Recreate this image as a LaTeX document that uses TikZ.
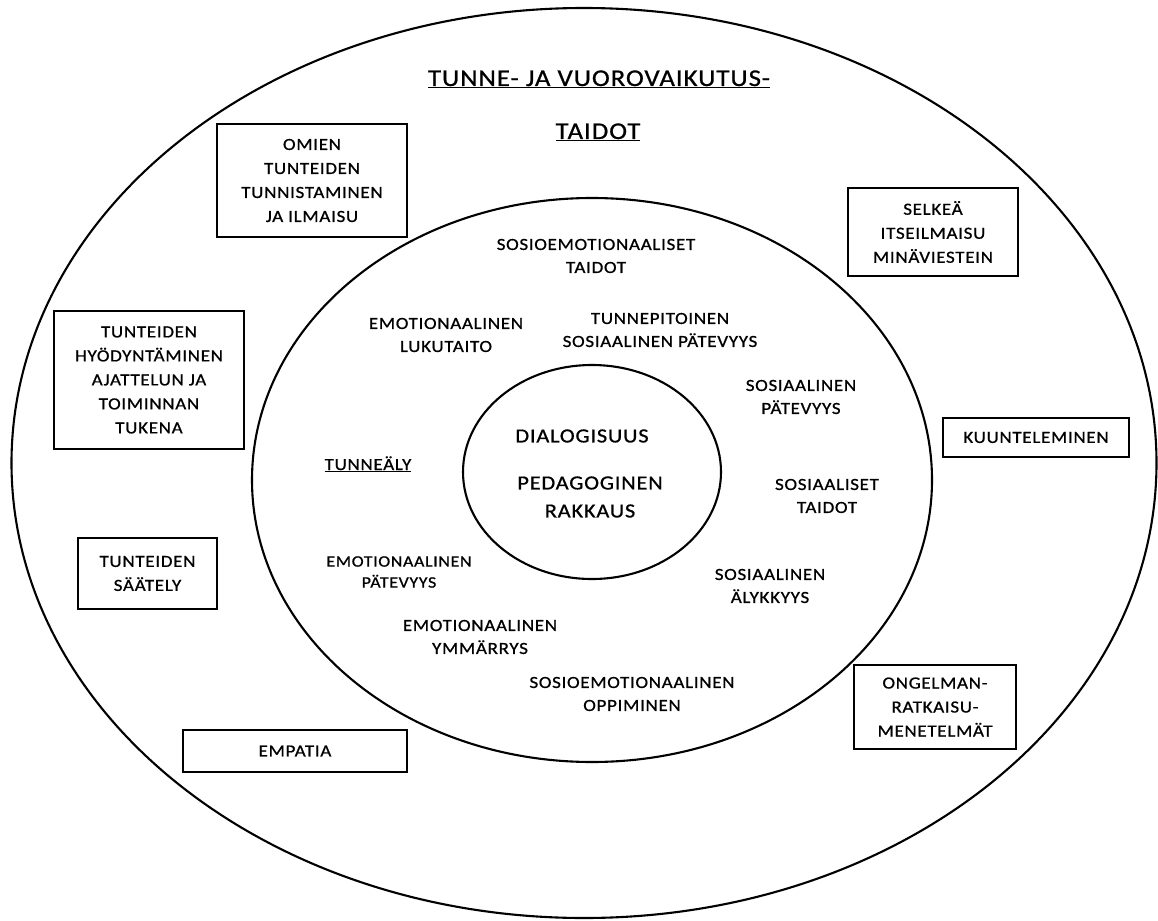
\documentclass[tikz,border=0pt]{standalone}
\usepackage{fontspec}
\setmainfont{Carlito}[FakeStretch=1.12,LetterSpace=4,FakeBold=0.8]

\tikzset{
  ring/.style={line width=2.1pt},
  topic/.style={align=center, inner sep=0pt, font=\fontsize{17}{23}\selectfont},
  small topic/.style={topic, font=\fontsize{16}{21}\selectfont},
  core/.style={align=center, inner sep=0pt, font=\fontsize{20}{28}\selectfont},
  heading/.style={anchor=base, inner sep=0pt, font=\fontsize{24}{30}\selectfont},
  skillbox/.style={draw, line width=1.4pt, align=center, inner sep=0pt,
    font=\fontsize{17}{24}\selectfont}
}

\begin{document}
\begin{tikzpicture}[x=1pt, y=-1pt]
				\useasboundingbox (0,0) rectangle (1158,920);
				\draw[ring] (584,463) ellipse [x radius=572.5pt, y radius=455pt];
				\draw[ring] (592,480) ellipse [x radius=340pt, y radius=282pt];
				\draw[ring] (592,472) ellipse [x radius=129pt, y radius=107pt];

				\node[heading] (title1) at (599,86) {\underline{TUNNE- JA VUOROVAIKUTUS-}};
				\node[heading] (title2) at (598,139) {\underline{TAIDOT}};

				\node[skillbox, minimum width=190pt, minimum height=113pt] (omien) at (312,180.5) {OMIEN\\TUNTEIDEN\\TUNNISTAMINEN\\JA ILMAISU};
				\node[skillbox, minimum width=190pt, minimum height=138pt] (hyod) at (149,380) {TUNTEIDEN\\HYÖDYNTÄMINEN\\AJATTELUN JA\\TOIMINNAN\\TUKENA};
				\node[skillbox, minimum width=139pt, minimum height=71pt] (saately) at (147.5,573.5) {TUNTEIDEN\\SÄÄTELY};
				\node[skillbox, minimum width=224pt, minimum height=42pt] (empatia) at (295,751) {EMPATIA};
				\node[skillbox, minimum width=170pt, minimum height=88pt] (selkea) at (933,232) {SELKEÄ\\ITSEILMAISU\\MINÄVIESTEIN};
				\node[skillbox, minimum width=186pt, minimum height=39pt] (kuunt) at (1036,437.5) {KUUNTELEMINEN};
				\node[skillbox, minimum width=162pt, minimum height=84pt] (ongelma) at (935,707) {ONGELMAN-\\RATKAISU-\\MENETELMÄT};

				\node[topic] (sostaidot) at (596,256) {SOSIOEMOTIONAALISET\\TAIDOT};
				\node[topic] (lukutaito) at (446,335) {EMOTIONAALINEN\\LUKUTAITO};
				\node[topic] (tunnepit) at (660,330) {TUNNEPITOINEN\\SOSIAALINEN PÄTEVYYS};
				\node[topic] (sospat) at (801,397) {SOSIAALINEN\\PÄTEVYYS};
				\node[topic, anchor=base] (tunnealy) at (368,470) {\underline{TUNNEÄLY}};
				\node[topic] (sosiaaliset) at (827,496) {SOSIAALISET\\TAIDOT};
				\node[small topic] (emopat) at (399,572) {EMOTIONAALINEN\\PÄTEVYYS};
				\node[topic] (alykkyys) at (770,586) {SOSIAALINEN\\ÄLYKKYYS};
				\node[topic] (ymmarrys) at (480,637) {EMOTIONAALINEN\\YMMÄRRYS};
				\node[topic] (oppiminen) at (632,694) {SOSIOEMOTIONAALINEN\\OPPIMINEN};

				\node[core] (dialog) at (582,436) {DIALOGISUUS};
				\node[core] (rakkaus) at (590,497) {PEDAGOGINEN\\RAKKAUS};
			\end{tikzpicture}
\end{document}
